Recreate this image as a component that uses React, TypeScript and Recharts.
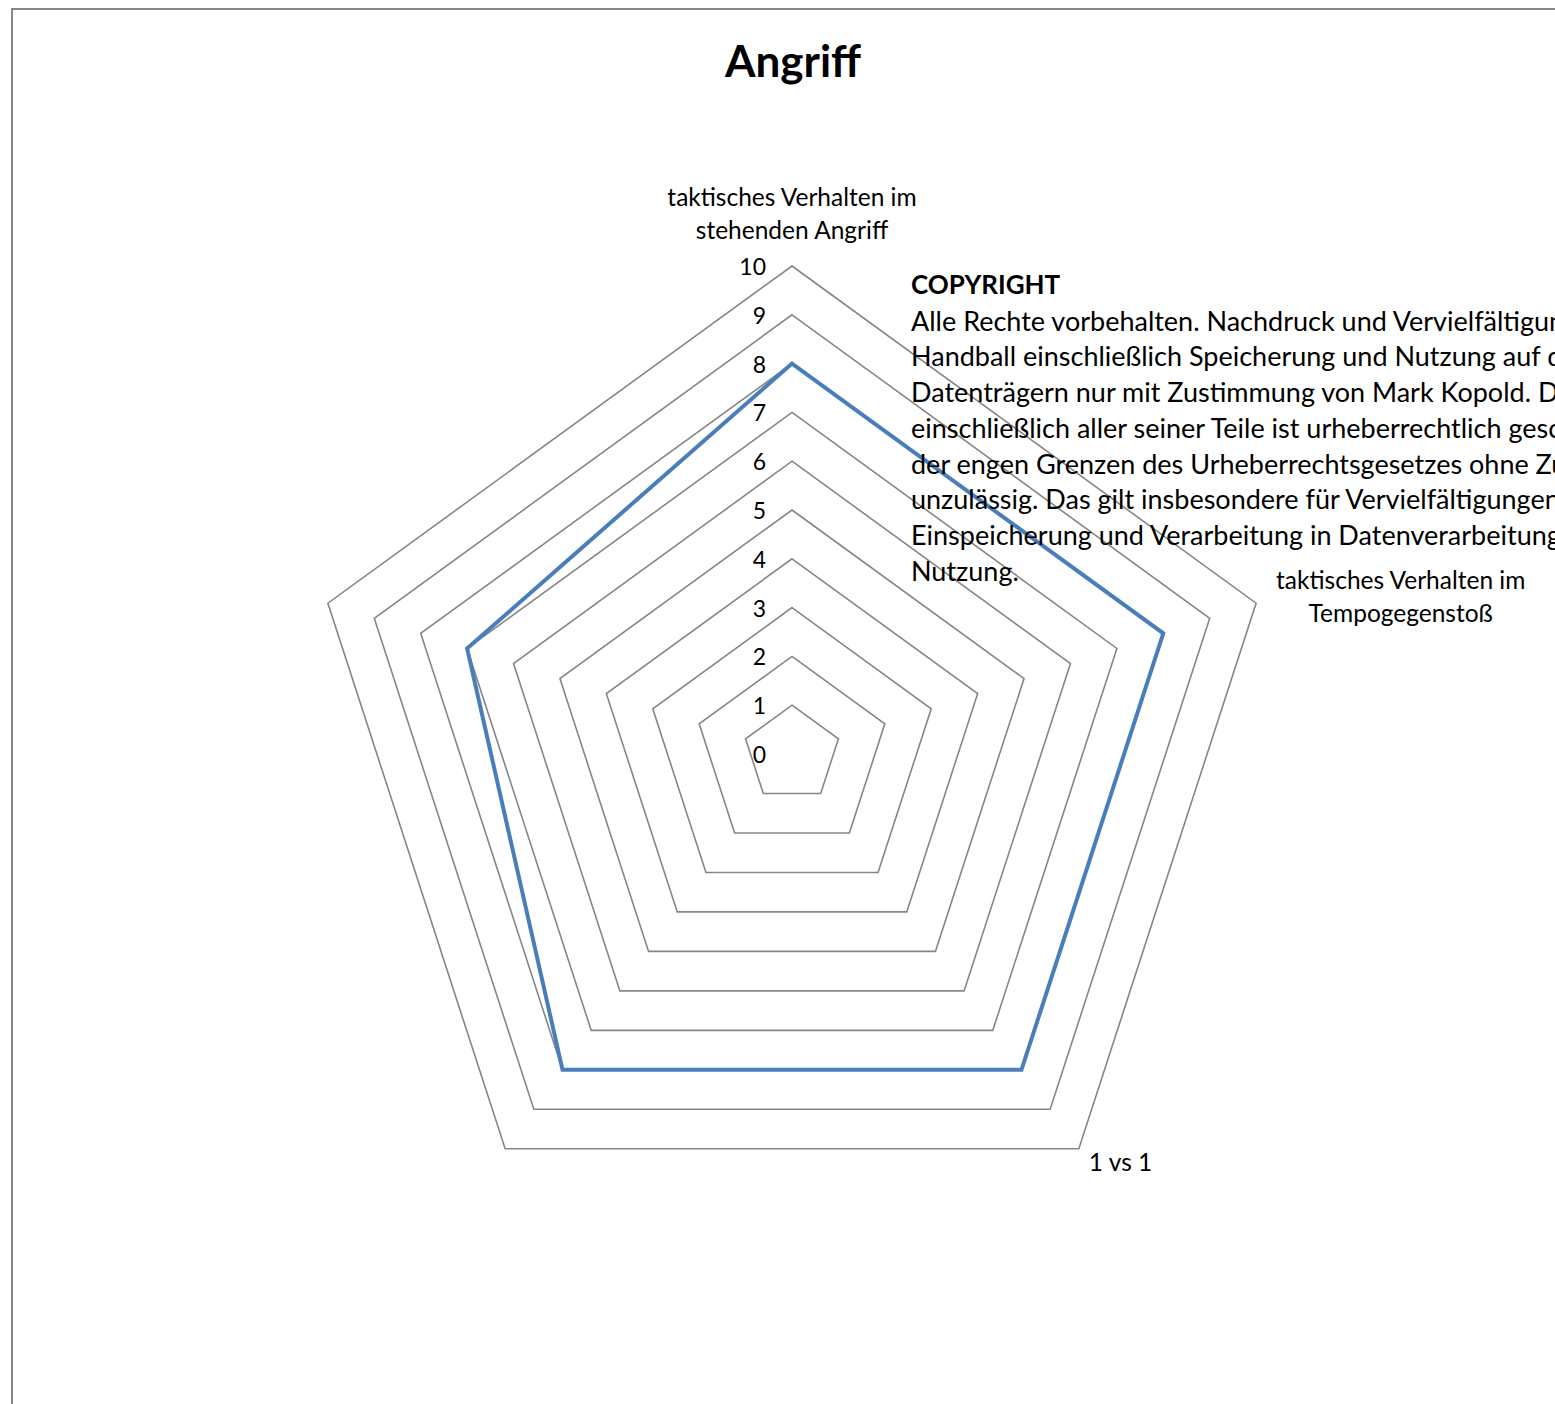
import React from 'react';
import { RadarChart, Radar, PolarGrid, PolarAngleAxis, PolarRadiusAxis } from 'recharts';

const categories = [
  'taktisches Verhalten im stehenden Angriff',
  'taktisches Verhalten im Tempogegenstoß',
  '1 vs 1',
  '',
  '',
];
const values = [8, 8, 8, 8, 7];
const categoryLines: string[][] = [
  ['taktisches Verhalten im', 'stehenden Angriff'],
  ['taktisches Verhalten im', 'Tempogegenstoß'],
  ['1 vs 1'],
  [],
  [],
];
const radiusTicks = [0, 1, 2, 3, 4, 5, 6, 7, 8, 9, 10];
const title = 'Angriff';
const copyrightTitle = 'COPYRIGHT';
const copyrightLines = [
  'Alle Rechte vorbehalten. Nachdruck und Vervielfältigung',
  'Handball einschließlich Speicherung und Nutzung auf digitalen',
  'Datenträgern nur mit Zustimmung von Mark Kopold. Das Werk',
  'einschließlich aller seiner Teile ist urheberrechtlich geschützt.',
  'der engen Grenzen des Urheberrechtsgesetzes ohne Zustimmung',
  'unzulässig. Das gilt insbesondere für Vervielfältigungen,',
  'Einspeicherung und Verarbeitung in Datenverarbeitungsanlagen',
  'Nutzung.',
];

const data = categories.map((c, i) => ({ key: `c${i}`, category: c, value: values[i] }));

const FONT = 'Lato, "Open Sans", sans-serif';
const CX = 792;
const CY = 754;
const R = 488;

// label offsets relative to the tick anchor (x, y)
const labelOffsets = [
  { dx: 0, dy: -62 },
  { dx: 137, dy: -21 },
  { dx: 37, dy: 6 },
  { dx: 0, dy: 0 },
  { dx: 0, dy: 0 },
];

const AngleTick = (props: any) => {
  const { x, y, payload, index } = props;
  const idx =
    typeof index === 'number' ? index : data.findIndex((d) => d.key === payload.value);
  const lines = categoryLines[idx] || [];
  const off = labelOffsets[idx] || { dx: 0, dy: 0 };
  return (
    <g>
      {lines.map((l, k) => (
        <text
          key={k}
          x={x + off.dx}
          y={y + off.dy + k * 33}
          textAnchor="middle"
          dominantBaseline="central"
          fontFamily={FONT}
          fontSize={24.5}
          fill="#000"
        >
          {l}
        </text>
      ))}
    </g>
  );
};

const RadiusTick = (props: any) => {
  const { x, y, payload } = props;
  return (
    <text
      x={x - 26}
      y={y}
      textAnchor="end"
      dominantBaseline="central"
      fontFamily={FONT}
      fontSize={23}
      fill="#000"
    >
      {payload.value}
    </text>
  );
};

export default function App() {
  return (
    <div
      style={{
        position: 'fixed',
        left: 0,
        top: 0,
        width: 1555,
        height: 1404,
        overflow: 'hidden',
        background: '#fff',
      }}
    >
      <div
        style={{
          position: 'absolute',
          left: 11,
          top: 8,
          width: 1700,
          height: 1600,
          borderLeft: '2px solid #868686',
          borderTop: '2px solid #868686',
        }}
      />
      <div style={{ position: 'absolute', left: 0, top: 0 }}>
        <RadarChart
          width={1555}
          height={1404}
          data={data}
          cx={CX}
          cy={CY}
          outerRadius={R}
          startAngle={90}
          endAngle={-270}
          margin={{ top: 0, right: 0, bottom: 0, left: 0 }}
        >
          <PolarGrid gridType="polygon" radialLines={false} stroke="#868686" strokeWidth={1.6} />
          <PolarAngleAxis dataKey="key" tick={<AngleTick />} tickLine={false} axisLine={false} />
          <PolarRadiusAxis
            angle={90}
            domain={[0, 10]}
            ticks={radiusTicks as any}
            tickCount={11}
            tick={<RadiusTick />}
            axisLine={false}
            tickLine={false}
          />
          <Radar
            dataKey="value"
            stroke="#4A7EBB"
            strokeWidth={4}
            fill="none"
            fillOpacity={0}
            dot={false}
            isAnimationActive={false}
          />
        </RadarChart>
      </div>
      <div
        style={{
          position: 'absolute',
          left: 0,
          top: 34,
          width: 1586,
          textAlign: 'center',
          fontFamily: FONT,
          fontWeight: 'bold',
          fontSize: 44,
          lineHeight: '52px',
          color: '#000',
        }}
      >
        {title}
      </div>
      <div
        style={{
          position: 'absolute',
          left: 911,
          top: 267,
          fontFamily: FONT,
          fontSize: 27,
          lineHeight: '35.7px',
          color: '#000',
          whiteSpace: 'nowrap',
        }}
      >
        <div style={{ fontWeight: 'bold', fontSize: 26 }}>{copyrightTitle}</div>
        {copyrightLines.map((l, i) => (
          <div key={i}>{l}</div>
        ))}
      </div>
    </div>
  );
}
